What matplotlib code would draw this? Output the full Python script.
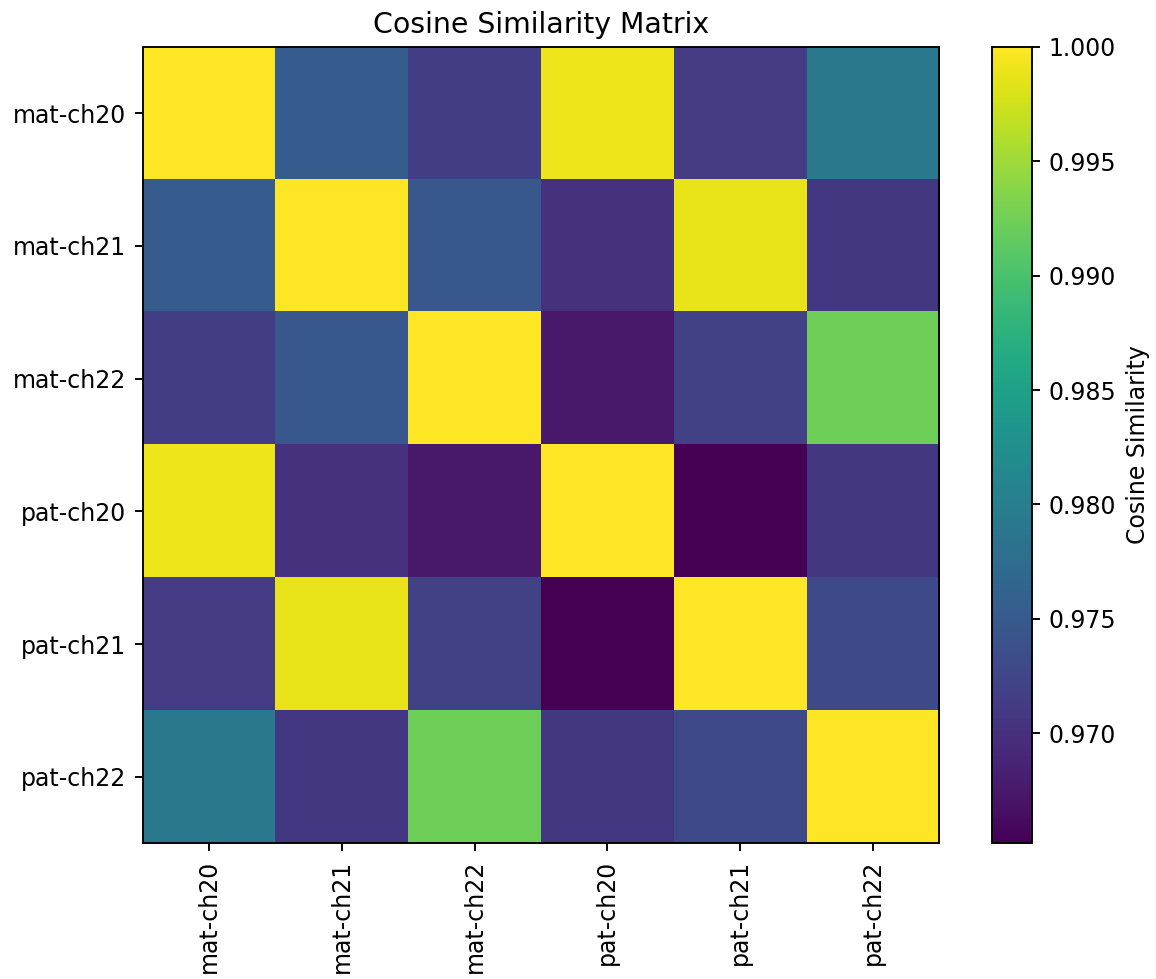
import matplotlib
matplotlib.use("Agg")
import numpy as np
import matplotlib.pyplot as plt

labels = ["mat-ch20", "mat-ch21", "mat-ch22", "pat-ch20", "pat-ch21", "pat-ch22"]

# pairwise similarities (matrix is symmetric, diag = 1)
row_mat20 = [1.0000, 0.9753, 0.9715, 0.9991, 0.9714, 0.9791]
row_mat21 = [0.9753, 1.0000, 0.9746, 0.9701, 0.9989, 0.9708]
row_mat22 = [0.9715, 0.9746, 1.0000, 0.9676, 0.9719, 0.9923]
row_pat20 = [0.9991, 0.9701, 0.9676, 1.0000, 0.9652, 0.9708]
row_pat21 = [0.9714, 0.9989, 0.9719, 0.9652, 1.0000, 0.9729]
row_pat22 = [0.9791, 0.9708, 0.9923, 0.9708, 0.9729, 1.0000]

sim = np.array([row_mat20, row_mat21, row_mat22, row_pat20, row_pat21, row_pat22])

DPI = 170
fig = plt.figure(figsize=(1156 / DPI, 979 / DPI), dpi=DPI)
ax = fig.add_axes([0.1237, 0.1389, 0.6886, 0.8131])
cax = fig.add_axes([0.858, 0.1389, 0.0346, 0.8131])

im = ax.imshow(sim, cmap="viridis", aspect="auto")
ax.set_xticks(range(len(labels)))
ax.set_xticklabels(labels, rotation=90)
ax.set_yticks(range(len(labels)))
ax.set_yticklabels(labels)
ax.set_title("Cosine Similarity Matrix")

cb = fig.colorbar(im, cax=cax)
cb.set_label("Cosine Similarity")
cb.set_ticks([0.970, 0.975, 0.980, 0.985, 0.990, 0.995, 1.000])
cb.ax.yaxis.set_major_formatter(matplotlib.ticker.FormatStrFormatter("%.3f"))

fig.savefig("out.png", dpi=DPI)
